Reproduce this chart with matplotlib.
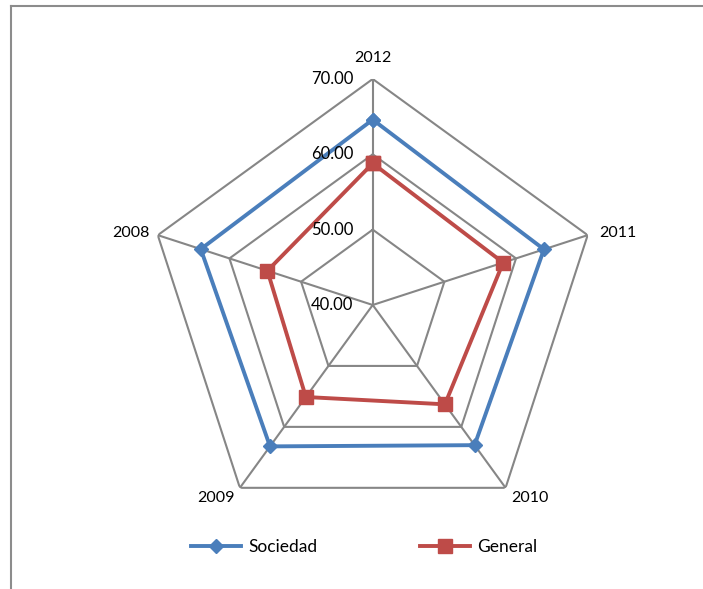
import matplotlib
matplotlib.use("Agg")
import matplotlib.pyplot as plt
import numpy as np
from matplotlib.lines import Line2D

plt.rcParams["font.family"] = ["Lato", "DejaVu Sans"]

# Datos del gráfico radial
anios = ["2012", "2011", "2010", "2009", "2008"]
sociedad = [64.6, 63.9, 63.0, 63.2, 64.0]
general = [58.8, 58.2, 56.3, 55.1, 54.7]
niveles = [40, 50, 60, 70]
etiquetas_niveles = ["40.00", "50.00", "60.00", "70.00"]

azul = "#4A7EBB"
rojo = "#BE4B48"
gris = "#868686"

fig = plt.figure(figsize=(7.03, 5.89), dpi=100)
ax = fig.add_axes([0.2087, 0.0985, 0.643, 0.7674], projection="polar")
ax.set_theta_offset(np.pi / 2)
ax.set_theta_direction(-1)
ax.set_ylim(niveles[0], niveles[-1])
ax.grid(False)
ax.spines["polar"].set_visible(False)
ax.set_xticks([])
ax.set_yticks([])
ax.patch.set_alpha(0)

angulos = np.linspace(0, 2 * np.pi, len(anios), endpoint=False)
cerrado = np.append(angulos, angulos[0])

# Rejilla pentagonal
for nivel in niveles[1:]:
    ax.plot(cerrado, [nivel] * len(cerrado), color=gris, lw=1.5, zorder=1)
for a in angulos:
    ax.plot([a, a], [niveles[0], niveles[-1]], color=gris, lw=1.5, zorder=1)

# Series
ax.plot(cerrado, sociedad + sociedad[:1], color=azul, lw=2.8, marker="D",
        markersize=7.5, zorder=3, clip_on=False)
ax.plot(cerrado, general + general[:1], color=rojo, lw=2.8, marker="s",
        markersize=9.5, zorder=3, clip_on=False)

# Etiquetas de los ejes
offsets = [(0, 10, "center", "bottom"), (8, 1.5, "left", "center"),
           (4, -2, "left", "top"), (-4, -2, "right", "top"),
           (-6, 1.5, "right", "center")]
for a, txt, (dx, dy, ha, va) in zip(angulos, anios, offsets):
    ax.annotate(txt, xy=(a, niveles[-1]), xytext=(dx, dy), textcoords="offset points",
                ha=ha, va=va, fontsize=11.5, annotation_clip=False)

for nivel, txt in zip(niveles, etiquetas_niveles):
    ax.annotate(txt, xy=(0, nivel), xytext=(-14, 0), textcoords="offset points",
                ha="right", va="center", fontsize=12, annotation_clip=False)

# Leyenda
handles = [
    Line2D([], [], color=azul, lw=2.8, marker="D", markersize=7.5),
    Line2D([], [], color=rojo, lw=2.8, marker="s", markersize=9.5),
]
fig.legend(handles, ["Sociedad", "General"], loc="center", ncol=2,
           bbox_to_anchor=(0.518, 0.0713), frameon=False, fontsize=12.5,
           handlelength=2.9, handletextpad=0.4, columnspacing=5.9)

# Borde del área del gráfico
fig.add_artist(Line2D([11 / 703, 11 / 703], [0, 1 - 6 / 589], color="#8c8c8c", lw=1.5))
fig.add_artist(Line2D([11 / 703, 1], [1 - 6 / 589, 1 - 6 / 589], color="#8c8c8c", lw=1.5))

fig.savefig("out.png", dpi=100)
